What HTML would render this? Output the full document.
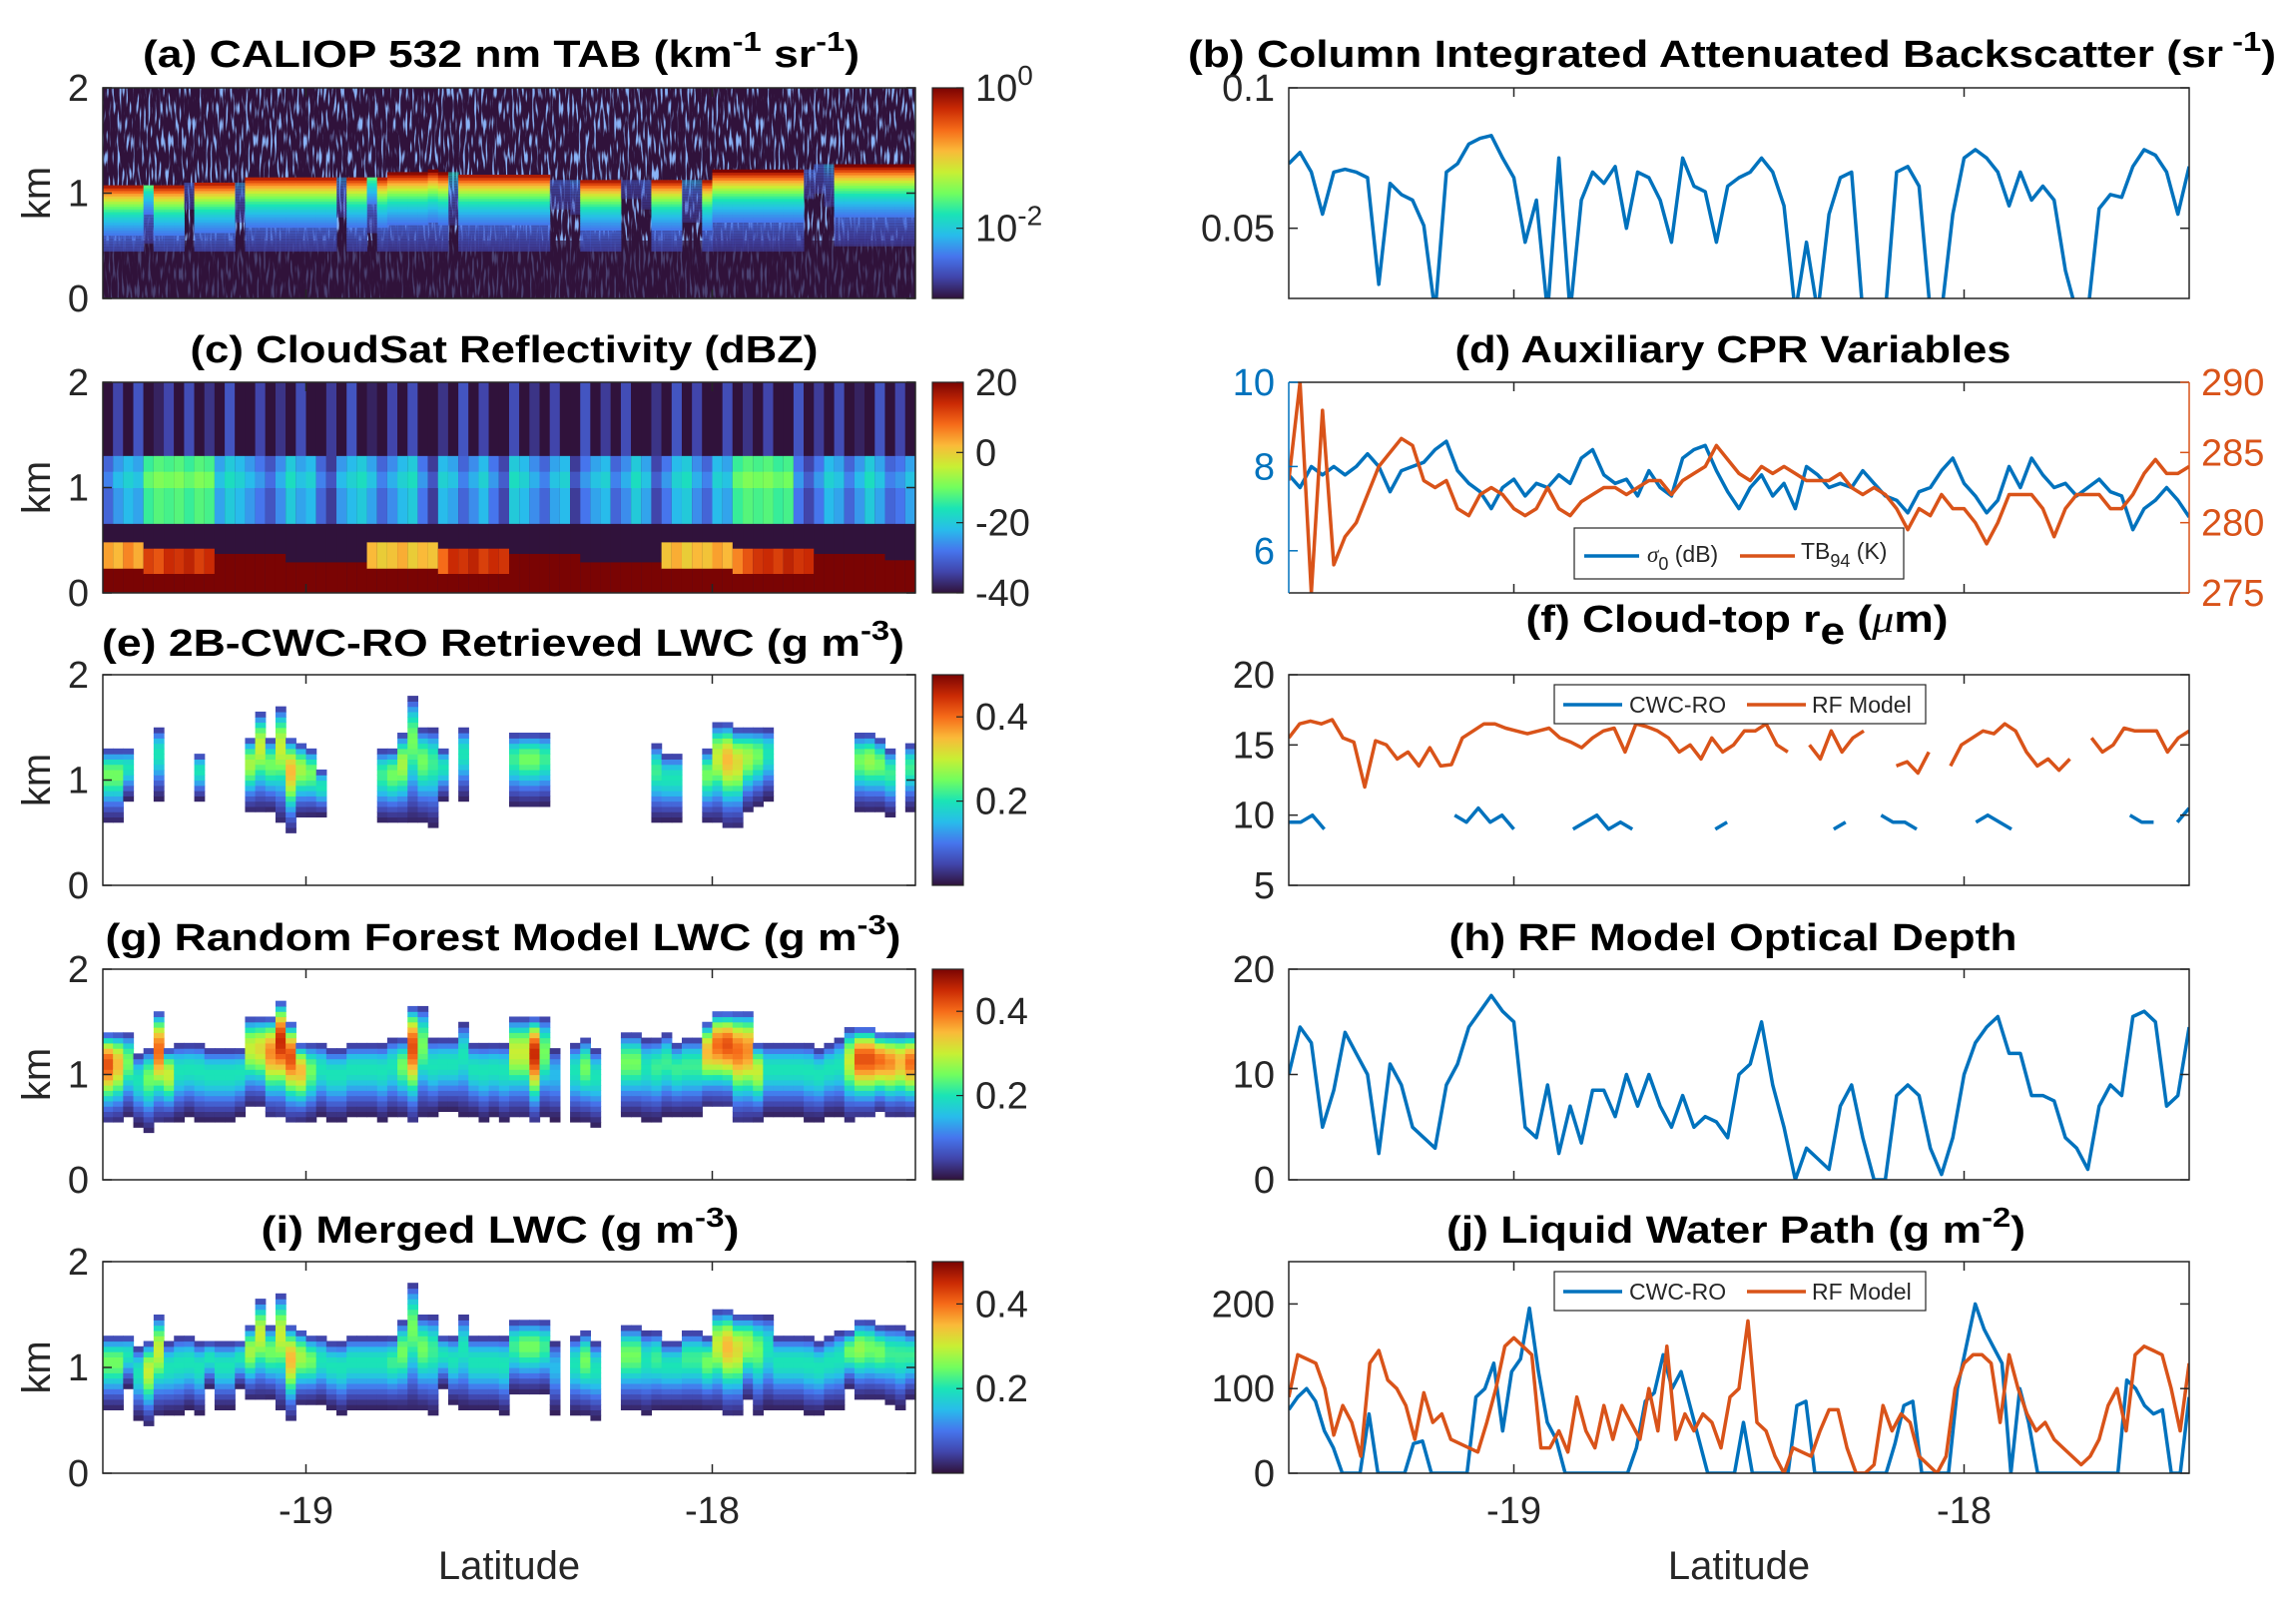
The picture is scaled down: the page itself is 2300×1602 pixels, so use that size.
<!DOCTYPE html>
<html><head><meta charset="utf-8"><style>
html,body{margin:0;padding:0;background:#fff;}
svg{display:block;font-family:"Liberation Sans",Arial,sans-serif;}
</style></head><body>
<svg id="fig" width="2300" height="1602" viewBox="0 0 2300 1602" xmlns="http://www.w3.org/2000/svg">
<defs>
<filter id="speckle" x="0" y="0" width="100%" height="100%">
<feTurbulence type="fractalNoise" baseFrequency="0.45 0.06" numOctaves="1" seed="3"/>
<feColorMatrix type="matrix" values="0 0 0 0 0.25  0 0 0 0 0.45  0 0 0 0 0.92  7 0 0 0 -3.75"/>
</filter>
<linearGradient id="turbo" x1="0" y1="1" x2="0" y2="0">
<stop offset="0" stop-color="#30123b"/><stop offset="0.1" stop-color="#4145ab"/><stop offset="0.2" stop-color="#4675ed"/><stop offset="0.3" stop-color="#28bceb"/><stop offset="0.4" stop-color="#1ae4b6"/><stop offset="0.5" stop-color="#72fe5e"/><stop offset="0.6" stop-color="#c8ef34"/><stop offset="0.7" stop-color="#faba39"/><stop offset="0.8" stop-color="#f66b19"/><stop offset="0.9" stop-color="#ca2a04"/><stop offset="1" stop-color="#7a0403"/>
</linearGradient>
</defs>
</svg>
<script>
// ---------- data ----------
const latMin=-19.5, latMax=-17.5;
const xTickVals=[-19,-18];
// (a) CALIOP cloud top (km) and signal strength per column
const calTop=[1.07,1.07,1.07,1.07,1.07,1.07,1.07,1.07,1.1,1.1,1.1,1.1,1.1,1.1,1.15,1.15,1.15,1.15,1.15,1.15,1.15,1.15,1.15,1.15,1.15,1.15,1.15,1.15,1.18,1.18,1.18,1.18,1.2,1.18,1.18,1.17,1.17,1.17,1.17,1.17,1.17,1.17,1.17,1.17,1.12,1.12,1.12,1.12,1.12,1.12,1.12,1.12,1.12,1.12,1.12,1.12,1.12,1.12,1.12,1.12,1.2,1.2,1.2,1.2,1.2,1.2,1.2,1.2,1.2,1.2,1.25,1.25,1.25,1.25,1.25,1.25,1.25,1.25,1.25,1.25];
const calStr=[1,1,1,1,0.5,1,1,1,0.2,1,1,1,1,0.3,1,1,1,1,1,1,1,1,1,0.3,1,1,0.5,1,1,1,1,1,1,1,0.4,1,1,1,1,1,1,1,1,1,0.2,0.2,0.25,1,1,1,1,0.15,0.15,0.2,1,1,1,0.3,0.3,1,1,1,1,1,1,1,1,1,1,0.2,0.2,0.3,1,1,1,1,1,1,1,1];
// (c) CloudSat
const csRedTop=[0.23,0.23,0.23,0.23,0.18,0.18,0.18,0.18,0.18,0.18,0.18,0.37,0.37,0.37,0.37,0.37,0.37,0.37,0.29,0.29,0.29,0.29,0.29,0.29,0.29,0.29,0.23,0.23,0.23,0.23,0.23,0.23,0.23,0.18,0.18,0.18,0.18,0.18,0.18,0.18,0.37,0.37,0.37,0.37,0.37,0.37,0.37,0.29,0.29,0.29,0.29,0.29,0.29,0.29,0.29,0.23,0.23,0.23,0.23,0.23,0.23,0.23,0.18,0.18,0.18,0.18,0.18,0.18,0.18,0.18,0.37,0.37,0.37,0.37,0.37,0.37,0.37,0.31,0.31,0.31];
const csClutTop=[0.48,0.48,0.48,0.48,0.42,0.42,0.42,0.42,0.42,0.42,0.42,0,0,0,0,0,0,0,0,0,0,0,0,0,0,0,0.48,0.48,0.48,0.48,0.48,0.48,0.48,0.42,0.42,0.42,0.42,0.42,0.42,0.42,0,0,0,0,0,0,0,0,0,0,0,0,0,0,0,0.48,0.48,0.48,0.48,0.48,0.48,0.48,0.42,0.42,0.42,0.42,0.42,0.42,0.42,0.42,0,0,0,0,0,0,0,0,0,0];
const csClutVal=[4,2,6,3,12,10,14,13,15,12,14,0,0,0,0,0,0,0,0,0,0,0,0,0,0,0,2,0,1,3,0,2,1,8,14,13,15,12,14,13,0,0,0,0,0,0,0,0,0,0,0,0,0,0,0,1,3,0,2,1,4,2,6,10,13,14,12,15,13,14,0,0,0,0,0,0,0,0,0,0];
const csMid=[-30,-25,-22,-24,-14,-12,-13,-12,-14,-12,-13,-24,-20,-22,-25,-28,-32,-26,-20,-24,-22,-30,-35,-25,-22,-20,-24,-30,-26,-22,-20,-28,-35,-22,-24,-30,-26,-22,-28,-34,-20,-22,-26,-30,-24,-22,-35,-28,-24,-22,-30,-26,-20,-24,-34,-28,-22,-20,-26,-30,-22,-24,-14,-12,-13,-12,-14,-13,-28,-34,-28,-22,-24,-30,-25,-20,-24,-30,-28,-24];
const csUp=[-40,-34,-40,-32,-40,-38,-34,-40,-33,-40,-36,-40,-32,-40,-40,-34,-40,-36,-40,-33,-40,-40,-35,-40,-32,-40,-38,-40,-34,-40,-33,-40,-40,-36,-40,-32,-40,-34,-40,-40,-33,-40,-36,-40,-34,-40,-40,-32,-40,-35,-40,-33,-40,-40,-36,-40,-32,-40,-34,-40,-40,-33,-40,-36,-40,-34,-40,-40,-32,-40,-35,-40,-33,-40,-38,-40,-32,-40,-34,-40];
// (e) CWC-RO LWC columns
const eTop=[1.3,1.3,1.3,0,0,1.5,0,0,0,1.25,0,0,0,0,1.4,1.65,1.4,1.7,1.4,1.35,1.3,1.1,0,0,0,0,0,1.3,1.3,1.45,1.8,1.5,1.5,1.3,0,1.5,0,0,0,0,1.45,1.45,1.45,1.45,0,0,0,0,0,0,0,0,0,0,1.35,1.25,1.25,0,0,1.3,1.55,1.55,1.5,1.5,1.5,1.5,0,0,0,0,0,0,0,0,1.45,1.45,1.4,1.3,0,1.35];
const eBase=[0.6,0.6,0.8,0,0,0.8,0,0,0,0.8,0,0,0,0,0.7,0.7,0.7,0.6,0.5,0.65,0.65,0.65,0,0,0,0,0,0.6,0.6,0.6,0.6,0.6,0.55,0.8,0,0.8,0,0,0,0,0.75,0.75,0.75,0.75,0,0,0,0,0,0,0,0,0,0,0.6,0.6,0.6,0,0,0.6,0.6,0.55,0.55,0.7,0.75,0.8,0,0,0,0,0,0,0,0,0.7,0.7,0.7,0.65,0,0.7];
const ePeak=[0.25,0.25,0.2,0,0,0.2,0,0,0,0.2,0,0,0,0,0.28,0.3,0.25,0.3,0.35,0.28,0.25,0.2,0,0,0,0,0,0.22,0.25,0.28,0.25,0.25,0.22,0.2,0,0.2,0,0,0,0,0.22,0.25,0.25,0.22,0,0,0,0,0,0,0,0,0,0,0.22,0.2,0.2,0,0,0.25,0.3,0.35,0.32,0.28,0.25,0.2,0,0,0,0,0,0,0,0,0.25,0.27,0.25,0.22,0,0.22];
// (g) RF model LWC columns
const gTop=[1.4,1.4,1.4,1.2,1.25,1.6,1.25,1.3,1.3,1.3,1.25,1.25,1.25,1.25,1.55,1.55,1.55,1.7,1.5,1.3,1.3,1.3,1.25,1.25,1.3,1.3,1.3,1.3,1.35,1.35,1.65,1.65,1.35,1.35,1.35,1.5,1.3,1.3,1.3,1.3,1.55,1.55,1.55,1.55,1.25,0,1.3,1.35,1.25,0,0,1.4,1.4,1.35,1.35,1.4,1.3,1.35,1.35,1.5,1.6,1.6,1.6,1.6,1.3,1.3,1.3,1.3,1.3,1.3,1.25,1.3,1.35,1.45,1.45,1.45,1.4,1.4,1.4,1.4];
const gBase=[0.55,0.55,0.6,0.5,0.45,0.55,0.55,0.55,0.6,0.55,0.55,0.55,0.55,0.6,0.7,0.7,0.6,0.6,0.55,0.55,0.55,0.6,0.55,0.55,0.6,0.6,0.6,0.55,0.6,0.6,0.55,0.6,0.6,0.65,0.65,0.6,0.6,0.55,0.6,0.55,0.6,0.6,0.55,0.6,0.55,0,0.55,0.55,0.5,0,0,0.6,0.6,0.55,0.55,0.6,0.6,0.6,0.6,0.7,0.7,0.7,0.55,0.55,0.55,0.6,0.6,0.6,0.6,0.55,0.55,0.6,0.6,0.55,0.6,0.6,0.65,0.6,0.6,0.6];
const gPeak=[0.42,0.35,0.25,0.2,0.25,0.4,0.3,0.2,0.2,0.2,0.2,0.2,0.2,0.2,0.3,0.32,0.38,0.45,0.42,0.35,0.25,0.2,0.2,0.2,0.2,0.2,0.2,0.2,0.2,0.25,0.42,0.25,0.2,0.2,0.2,0.2,0.2,0.2,0.2,0.2,0.3,0.3,0.45,0.25,0.15,0,0.2,0.25,0.2,0,0,0.25,0.25,0.2,0.22,0.22,0.22,0.22,0.22,0.35,0.4,0.42,0.4,0.38,0.3,0.2,0.2,0.2,0.2,0.2,0.2,0.2,0.2,0.3,0.42,0.42,0.4,0.38,0.35,0.4];
// (i) merged LWC columns
const iTop=[1.3,1.3,1.3,1.2,1.25,1.5,1.25,1.3,1.3,1.25,1.25,1.25,1.25,1.25,1.4,1.65,1.4,1.7,1.4,1.35,1.3,1.3,1.25,1.25,1.3,1.3,1.3,1.3,1.3,1.45,1.8,1.5,1.5,1.3,1.3,1.5,1.3,1.3,1.3,1.3,1.45,1.45,1.45,1.45,1.25,0,1.3,1.35,1.25,0,0,1.4,1.4,1.35,1.35,1.25,1.25,1.35,1.35,1.3,1.55,1.55,1.5,1.5,1.5,1.5,1.3,1.3,1.3,1.3,1.25,1.3,1.35,1.35,1.45,1.45,1.4,1.4,1.4,1.35];
const iBase=[0.6,0.6,0.8,0.5,0.45,0.55,0.55,0.55,0.6,0.55,0.8,0.6,0.6,0.8,0.7,0.7,0.7,0.6,0.5,0.65,0.65,0.65,0.6,0.55,0.6,0.6,0.6,0.6,0.6,0.6,0.6,0.6,0.55,0.8,0.65,0.6,0.6,0.6,0.6,0.55,0.75,0.75,0.75,0.75,0.55,0,0.55,0.55,0.5,0,0,0.6,0.6,0.55,0.6,0.6,0.6,0.6,0.6,0.6,0.6,0.55,0.55,0.7,0.55,0.6,0.6,0.6,0.6,0.55,0.55,0.6,0.6,0.8,0.7,0.7,0.7,0.65,0.6,0.7];
const iPeak=[0.25,0.25,0.2,0.2,0.3,0.3,0.2,0.2,0.2,0.2,0.2,0.2,0.2,0.2,0.28,0.3,0.25,0.3,0.35,0.28,0.25,0.2,0.2,0.2,0.2,0.2,0.2,0.2,0.22,0.25,0.25,0.25,0.22,0.2,0.2,0.2,0.2,0.2,0.2,0.2,0.22,0.25,0.25,0.22,0.15,0,0.2,0.25,0.2,0,0,0.25,0.25,0.2,0.22,0.2,0.2,0.22,0.22,0.25,0.3,0.35,0.32,0.28,0.25,0.2,0.2,0.2,0.2,0.2,0.2,0.2,0.2,0.25,0.27,0.25,0.25,0.22,0.22,0.22];
// (b) column integrated attenuated backscatter
const ciab=[0.073,0.077,0.07,0.055,0.07,0.071,0.07,0.068,0.03,0.066,0.062,0.06,0.051,0.02,0.07,0.073,0.08,0.082,0.083,0.075,0.068,0.045,0.06,0.02,0.075,0.02,0.06,0.07,0.066,0.072,0.05,0.07,0.068,0.06,0.045,0.075,0.065,0.063,0.045,0.065,0.068,0.07,0.075,0.07,0.058,0.02,0.045,0.02,0.055,0.068,0.07,0.02,0.02,0.02,0.07,0.072,0.065,0.02,0.02,0.055,0.075,0.078,0.075,0.07,0.058,0.07,0.06,0.065,0.06,0.035,0.02,0.02,0.057,0.062,0.061,0.072,0.078,0.076,0.07,0.055,0.072];
// (d) sigma0 (dB) and TB94 (K)
const sigma0=[7.8,7.5,8,7.8,8,7.8,8,8.3,8.0,7.4,7.9,8,8.1,8.4,8.6,7.9,7.6,7.4,7.0,7.5,7.7,7.3,7.6,7.5,7.8,7.6,8.2,8.4,7.8,7.6,7.7,7.3,7.9,7.5,7.3,8.2,8.4,8.5,7.9,7.4,7.0,7.5,7.8,7.3,7.6,7.0,8.0,7.8,7.5,7.6,7.5,7.9,7.6,7.3,7.2,6.9,7.4,7.5,7.9,8.2,7.6,7.3,6.9,7.2,8.0,7.5,8.2,7.8,7.5,7.6,7.3,7.5,7.7,7.4,7.3,6.5,7.0,7.2,7.5,7.2,6.8];
const tb94=[283,290,275,288,277,279,280,282,284,285,286,285.5,283,282.5,283,281,280.5,282,282.5,282,281,280.5,281,282.5,281,280.5,281.5,282,282.5,282.5,282,282.5,283,283,282,283,283.5,284,285.5,284.5,283.5,283,284,283.5,284,283.5,283,283,283,283.5,282.5,282,282.5,282,281,279.5,281,280.5,282,281,281,280,278.5,280,282,282,282,281,279,281,282,282,282,281,281,282,283.5,284.5,283.5,283.5,284];
// (f) cloud-top effective radius (um); null = missing
const reCwc=[9.5,9.5,10,9,null,9,null,null,9,null,9.5,null,9.5,null,10,9.5,10.5,9.5,10,9,null,9.8,null,null,9,9.5,10,9,9.5,9,null,8.8,null,9.2,null,null,9,9.5,null,null,null,null,null,null,null,null,9,9.5,null,null,10,9.5,9.5,9,null,null,null,null,9.5,10,9.5,9,null,null,null,null,null,null,null,null,null,10,9.5,9.5,null,9.5,10.5];
const reRf=[15.5,16.5,16.7,16.5,16.8,15.5,15.2,12,15.3,15,14,14.5,13.5,14.8,13.5,13.6,15.5,16,16.5,16.5,16.2,16,15.8,16,16.2,15.5,15.2,14.8,15.5,16,16.2,14.5,16.5,16.3,16,15.5,14.5,15,14,15.5,14.5,15,16,16,16.5,15,14.5,null,15,14,16,14.5,15.5,16,null,null,13.5,13.8,13,14.5,null,13.5,15,15.5,16,15.8,16.5,16,14.5,13.5,14,13.2,14,null,15.5,14.5,15,16.2,16,16,16,14.5,15.5,16];
// (h) RF model optical depth
const tau=[10,14.5,13,5,8.5,14,12,10,2.5,11,9,5,4,3,9,11,14.5,16,17.5,16,15,5,4,9,2.5,7,3.5,8.5,8.5,6,10,7,10,7,5,8,5,6,5.5,4,10,11,15,9,5,0,3,2,1,7,9,4,0,0,8,9,8,3,0.5,4,10,13,14.5,15.5,12,12,8,8,7.5,4,3,1,7,9,8,15.5,16,15,7,8,14.5];
// (j) liquid water path (g m^-2)
const lwpCwc=[75,90,100,85,50,30,0,0,0,70,0,0,0,0,35,38,0,0,0,0,0,90,100,130,50,120,135,195,120,60,40,0,0,0,0,0,0,0,0,30,85,95,140,100,120,80,40,0,0,0,0,60,0,0,0,0,0,80,85,0,0,0,0,0,0,0,0,0,35,80,85,0,0,0,0,100,150,200,170,150,130,0,100,60,0,0,0,0,0,0,0,0,0,0,110,100,80,70,75,0,0,90];
const lwpRf=[90,140,135,130,100,45,80,60,20,130,145,110,100,80,40,95,60,70,40,35,30,25,60,100,150,160,150,140,30,30,50,25,90,50,30,80,40,80,60,40,100,50,150,40,70,50,70,60,30,90,100,180,60,50,20,0,30,25,20,50,75,75,30,0,0,10,80,50,70,60,20,10,0,20,100,130,140,140,130,60,140,100,70,50,60,40,30,20,10,20,40,80,100,50,140,150,145,140,100,50,130];

// ---------- helpers ----------
const NS='http://www.w3.org/2000/svg';
const svg=document.getElementById('fig');
function mk(tag,attrs,parent){const e=document.createElementNS(NS,tag);for(const k in attrs)e.setAttribute(k,attrs[k]);(parent||svg).appendChild(e);return e;}
const stops=[[0,[48,18,59]],[0.1,[65,69,171]],[0.2,[70,117,237]],[0.3,[40,188,235]],[0.4,[26,228,182]],[0.5,[114,254,94]],[0.6,[200,239,52]],[0.7,[250,186,57]],[0.8,[246,107,25]],[0.9,[202,42,4]],[1,[122,4,3]]];
function turbo(t){t=Math.max(0,Math.min(1,t));for(let i=1;i<stops.length;i++){if(t<=stops[i][0]){const a=stops[i-1],b=stops[i];const f=(t-a[0])/(b[0]-a[0]);const c=a[1].map((v,j)=>Math.round(v+(b[1][j]-v)*f));return 'rgb('+c.join(',')+')';}}return 'rgb(122,4,3)';}
const TXT='#262626';
const TF=38;
const L={x0:103,x1:917}, R={x0:1291,x1:2193};
const rows=[[88,299],[383,594],[676,887],[971,1182],[1264,1476]];
function xs(ax,lat){return ax.x0+(lat-latMin)/(latMax-latMin)*(ax.x1-ax.x0);}
function ys(row,v,mn,mx){return rows[row][1]-(v-mn)/(mx-mn)*(rows[row][1]-rows[row][0]);}
function text(x,y,s,size,anchor,color,weight,g){const t=mk('text',{x:x,y:y,'font-size':size,'text-anchor':anchor||'middle',fill:color||TXT,'font-weight':weight||'normal'},g);t.innerHTML=s;return t;}
function title(cx,y,html,width,name){const t=mk('text',{x:cx,y:y,'font-size':38,'text-anchor':'middle','font-weight':'bold',fill:'#000',textLength:width,lengthAdjust:'spacingAndGlyphs'});t.innerHTML=html;}
function frame(ax,row,name){const r=mk('rect',{x:ax.x0,y:rows[row][0],width:ax.x1-ax.x0,height:rows[row][1]-rows[row][0],fill:'none',stroke:'#262626','stroke-width':1.5});}
function yTicks(ax,row,vals,labels,mn,mx,color,side){const g=mk('g',{});
 vals.forEach((v,i)=>{const y=ys(row,v,mn,mx);const c=color||'#262626';
  if(side!=='right'){mk('line',{x1:ax.x0,y1:y,x2:ax.x0+9,y2:y,stroke:c,'stroke-width':1.5},g);text(ax.x0-14,y+13,labels[i],TF,'end',color||TXT,'normal',g);}
  if(side!=='left'){mk('line',{x1:ax.x1,y1:y,x2:ax.x1-9,y2:y,stroke:c,'stroke-width':1.5},g);}
  if(side==='right'){text(ax.x1+12,y+13,labels[i],TF,'start',color,'normal',g);}
 });}
function xTicks(ax,row,showLabels){const g=mk('g',{});
 xTickVals.forEach(v=>{const x=xs(ax,v);mk('line',{x1:x,y1:rows[row][1],x2:x,y2:rows[row][1]-9,stroke:'#262626','stroke-width':1.5},g);mk('line',{x1:x,y1:rows[row][0],x2:x,y2:rows[row][0]+9,stroke:'#262626','stroke-width':1.5},g);
  if(showLabels)text(x,rows[row][1]+50,'-'+Math.abs(v),TF,'middle',TXT,'normal',g);});}
function kmLabel(row){const cy=(rows[row][0]+rows[row][1])/2;const t=mk('text',{x:0,y:0,'font-size':40,'text-anchor':'middle',fill:TXT,transform:'translate(50,'+cy+') rotate(-90)'});t.textContent='km';}
function colorbar(row,labels,fracs,name){const g=mk('g',{});
 const y0=rows[row][0],y1=rows[row][1];mk('rect',{x:934,y:y0,width:31,height:y1-y0,fill:'url(#turbo)',stroke:'#262626','stroke-width':1.2},g);
 fracs.forEach((f,i)=>{const y=y1-f*(y1-y0);mk('line',{x1:958,y1:y,x2:965,y2:y,stroke:'#262626','stroke-width':1.2},g);text(977,y+13,labels[i],TF,'start',TXT,'normal',g);});}
function clip(ax,row,id){const c=mk('clipPath',{id:id});mk('rect',{x:ax.x0,y:rows[row][0],width:ax.x1-ax.x0,height:rows[row][1]-rows[row][0]},c);return 'url(#'+id+')';}
function line(ax,row,vals,mn,mx,color,name,cp){const n=vals.length;let d='';let pen=false;
 vals.forEach((v,i)=>{if(v===null){pen=false;return;}const lat=latMin+i*(latMax-latMin)/(n-1);const x=xs(ax,lat),y=ys(row,v,mn,mx);d+=(pen?'L':'M')+x.toFixed(1)+' '+y.toFixed(1);pen=true;});
 const p=mk('path',{d:d,fill:'none',stroke:color,'stroke-width':3.5,'stroke-linejoin':'round','clip-path':cp});}
const colW=(L.x1-L.x0)/80;
function lwcPanel(row,tops,bases,peaks,name){const g=mk('g',{});
 const dz=0.05;
 tops.forEach((top,c)=>{if(!top)return;const base=bases[c],pk=peaks[c];const x=L.x0+c*colW;
  for(let z=base;z<top-0.001;z+=dz){const z2=Math.min(top,z+dz);const frac=((z+z2)/2-base)/(top-base);const t=Math.pow(frac,1.6);const v=Math.max(0.01,pk*(0.08+0.92*Math.sin(Math.PI*t)));
   mk('rect',{x:x.toFixed(2),y:ys(row,z2,0,2).toFixed(2),width:(colW+0.6).toFixed(2),height:(ys(row,z,0,2)-ys(row,z2,0,2)+0.6).toFixed(2),fill:turbo(v/0.5)},g);}
 });}

// ---------- (a) CALIOP ----------
title(502,67,'(a) CALIOP 532 nm TAB (km<tspan dy="-16" font-size="28">-1</tspan><tspan dy="16"> sr</tspan><tspan dy="-16" font-size="28">-1</tspan><tspan dy="16">)</tspan>',718,'title-a');
(function(){const g=mk('g',{'clip-path':clip(L,0,'ca')});
 mk('rect',{x:L.x0,y:rows[0][0],width:L.x1-L.x0,height:211,fill:'#30123b'},g);
 mk('rect',{x:L.x0,y:rows[0][0],width:L.x1-L.x0,height:211,filter:'url(#speckle)'},g);
 mk('rect',{x:L.x0,y:ys(0,0.55,0,2),width:L.x1-L.x0,height:ys(0,0,0,2)-ys(0,0.55,0,2),fill:'#30123b',opacity:0.7},g);
 calTop.forEach((top,c)=>{const s=calStr[c];const x=L.x0+c*colW;
  for(let z=0.45;z<top;z+=0.025){const d=top-z;const lv=-3+3*s*Math.exp(-d/0.3);const t=(lv+3)/3;if(t<0.08)continue;
   mk('rect',{x:x.toFixed(2),y:ys(0,z+0.025,0,2).toFixed(2),width:(colW+0.5).toFixed(2),height:3.2,fill:turbo(t),opacity:s<0.5?0.5:(t<0.2?0.7:1)},g);}
 });})();
frame(L,0,'caliop-axes');yTicks(L,0,[0,1,2],['0','1','2'],0,2);xTicks(L,0,false);kmLabel(0);
colorbar(0,['10<tspan dy="-16" font-size="28">0</tspan>','10<tspan dy="-16" font-size="28">-2</tspan>'],[1,1/3],'colorbar-a');

// ---------- (c) CloudSat ----------
title(505,363,'(c) CloudSat Reflectivity (dBZ)',629,'title-c');
(function(){const g=mk('g',{'clip-path':clip(L,1,'cc')});
 const cv=v=>turbo((v+40)/60);
 for(let c=0;c<80;c++){const x=L.x0+c*colW,w=colW+0.6;
  const seg=(z0,z1,v)=>{mk('rect',{x:x.toFixed(2),y:ys(1,z1,0,2).toFixed(2),width:w.toFixed(2),height:(ys(1,z0,0,2)-ys(1,z1,0,2)+0.5).toFixed(2),fill:cv(v)},g);};
  seg(0,2,-40);
  seg(1.3,2,csUp[c]);
  seg(0.66,1.3,csMid[c]);
  seg(1.0,1.15,csMid[c]+3);
  if(csClutTop[c]>0) seg(csRedTop[c],csClutTop[c],csClutVal[c]);
  seg(0,csRedTop[c],20);
 }})();
frame(L,1,'cloudsat-axes');yTicks(L,1,[0,1,2],['0','1','2'],0,2);xTicks(L,1,false);kmLabel(1);
colorbar(1,['20','0','-20','-40'],[1,2/3,1/3,0],'colorbar-c');

// ---------- (e) (g) (i) ----------
title(504,657,'(e) 2B-CWC-RO Retrieved LWC (g m<tspan dy="-16" font-size="28">-3</tspan><tspan dy="16">)</tspan>',804,'title-e');
lwcPanel(2,eTop,eBase,ePeak,'cwc-lwc-heatmap');frame(L,2,'cwc-lwc-axes');yTicks(L,2,[0,1,2],['0','1','2'],0,2);xTicks(L,2,false);kmLabel(2);
colorbar(2,['0.4','0.2'],[0.8,0.4],'colorbar-e');
title(504,952,'(g) Random Forest Model LWC (g m<tspan dy="-16" font-size="28">-3</tspan><tspan dy="16">)</tspan>',797,'title-g');
lwcPanel(3,gTop,gBase,gPeak,'rf-lwc-heatmap');frame(L,3,'rf-lwc-axes');yTicks(L,3,[0,1,2],['0','1','2'],0,2);xTicks(L,3,false);kmLabel(3);
colorbar(3,['0.4','0.2'],[0.8,0.4],'colorbar-g');
title(501,1245,'(i) Merged LWC (g m<tspan dy="-16" font-size="28">-3</tspan><tspan dy="16">)</tspan>',479,'title-i');
lwcPanel(4,iTop,iBase,iPeak,'merged-lwc-heatmap');frame(L,4,'merged-lwc-axes');yTicks(L,4,[0,1,2],['0','1','2'],0,2);xTicks(L,4,true);kmLabel(4);
colorbar(4,['0.4','0.2'],[0.8,0.4],'colorbar-i');
(function(){const t=text(510,1582,'Latitude',40,'middle',TXT);})();

// ---------- right column ----------
const BLUE='#0072BD',ORANGE='#D95319';
title(1735,67,'(b) Column Integrated Attenuated Backscatter (sr<tspan dy="-16" font-size="28"> -1</tspan><tspan dy="16">)</tspan>',1090,'title-b');
line(R,0,ciab,0.025,0.1,BLUE,'ciab-line',clip(R,0,'cb'));frame(R,0,'ciab-axes');yTicks(R,0,[0.05,0.1],['0.05','0.1'],0.025,0.1);xTicks(R,0,false);

title(1736,363,'(d) Auxiliary CPR Variables',557,'title-d');
line(R,1,sigma0,5,10,BLUE,'sigma0-line',clip(R,1,'cd1'));line(R,1,tb94,275,290,ORANGE,'tb94-line',clip(R,1,'cd2'));
(function(){const g=mk('g',{});
 mk('line',{x1:R.x0,y1:rows[1][0],x2:R.x1,y2:rows[1][0],stroke:'#262626','stroke-width':1.5},g);mk('line',{x1:R.x0,y1:rows[1][1],x2:R.x1,y2:rows[1][1],stroke:'#262626','stroke-width':1.5},g);
 mk('line',{x1:R.x0,y1:rows[1][0],x2:R.x0,y2:rows[1][1],stroke:BLUE,'stroke-width':1.5},g);mk('line',{x1:R.x1,y1:rows[1][0],x2:R.x1,y2:rows[1][1],stroke:ORANGE,'stroke-width':1.5},g);})();
yTicks(R,1,[6,8,10],['6','8','10'],5,10,BLUE,'left');yTicks(R,1,[275,280,285,290],['275','280','285','290'],275,290,ORANGE,'right');xTicks(R,1,false);
(function(){const g=mk('g',{});
 mk('rect',{x:1577,y:529,width:330,height:51,fill:'#fff',stroke:'#262626','stroke-width':1.2},g);
 mk('line',{x1:1587,y1:557,x2:1642,y2:557,stroke:BLUE,'stroke-width':3.5},g);
 text(1650,563,'<tspan font-style="italic" font-family="Liberation Serif">σ</tspan><tspan dy="8" font-size="18">0</tspan><tspan dy="-8"> (dB)</tspan>',23,'start',TXT,'normal',g);
 mk('line',{x1:1743,y1:557,x2:1798,y2:557,stroke:ORANGE,'stroke-width':3.5},g);
 text(1804,560,'TB<tspan dy="8" font-size="18">94</tspan><tspan dy="-8"> (K)</tspan>',23,'start',TXT,'normal',g);})();

title(1740,633,'(f) Cloud-top r<tspan dy="12">e</tspan><tspan dy="-12"> (</tspan><tspan font-style="italic" font-family="Liberation Serif" font-weight="normal">μ</tspan>m)',423,'title-f');
line(R,2,reRf,5,20,ORANGE,'re-rf-line',clip(R,2,'cf2'));line(R,2,reCwc,5,20,BLUE,'re-cwc-line',clip(R,2,'cf1'));
frame(R,2,'re-axes');yTicks(R,2,[5,10,15,20],['5','10','15','20'],5,20);xTicks(R,2,false);
function legend2(y,name){const g=mk('g',{});
 mk('rect',{x:1557,y:y,width:372,height:39,fill:'#fff',stroke:'#262626','stroke-width':1.2},g);
 mk('line',{x1:1566,y1:y+20,x2:1625,y2:y+20,stroke:BLUE,'stroke-width':3.5},g);text(1632,y+28,'CWC-RO',23,'start',TXT,'normal',g);
 mk('line',{x1:1750,y1:y+20,x2:1809,y2:y+20,stroke:ORANGE,'stroke-width':3.5},g);text(1815,y+28,'RF Model',23,'start',TXT,'normal',g);}
legend2(686,'legend-f');

title(1736,952,'(h) RF Model Optical Depth',569,'title-h');
line(R,3,tau,0,20,BLUE,'tau-line',clip(R,3,'ch'));frame(R,3,'tau-axes');yTicks(R,3,[0,10,20],['0','10','20'],0,20);xTicks(R,3,false);

title(1739,1245,'(j) Liquid Water Path (g m<tspan dy="-16" font-size="28">-2</tspan><tspan dy="16">)</tspan>',580,'title-j');
line(R,4,lwpCwc,0,250,BLUE,'lwp-cwc-line',clip(R,4,'cj1'));line(R,4,lwpRf,0,250,ORANGE,'lwp-rf-line',clip(R,4,'cj2'));
frame(R,4,'lwp-axes');yTicks(R,4,[0,100,200],['0','100','200'],0,250);xTicks(R,4,true);legend2(1274,'legend-j');
(function(){const t=text(1742,1582,'Latitude',40,'middle',TXT);})();
</script>
</body></html>
